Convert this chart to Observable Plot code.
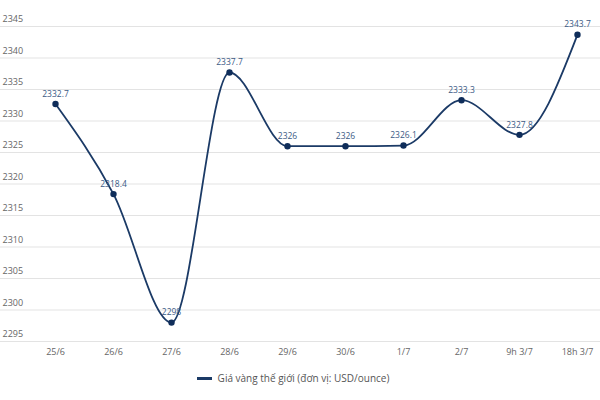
<!DOCTYPE html>
<html>
<head>
<meta charset="utf-8">
<script src="https://cdn.jsdelivr.net/npm/d3@7"></script>
<script src="https://cdn.jsdelivr.net/npm/@observablehq/plot@0.6"></script>
<style>
  body { margin: 0; background: #fff; font-family: "Open Sans", Lato, sans-serif; }
  #chart svg { display: block; }
  .legend { height: 38px; display: flex; justify-content: center; align-items: flex-start; padding-top: 9px; box-sizing: border-box; font-size: 10px; color: #555; padding-right: 14px; }
  .legend .sw { width: 15px; height: 3px; background: #1b3a66; margin-right: 6px; margin-top: 6px; }
</style>
</head>
<body>
<div id="chart"></div>
<div class="legend"><span class="sw"></span><span>Giá vàng thế giới (đơn vị: USD/ounce)</span></div>
<script>
const categories = ["25/6", "26/6", "27/6", "28/6", "29/6", "30/6", "1/7", "2/7", "9h 3/7", "18h 3/7"];
const values = [2332.7, 2318.4, 2298, 2337.7, 2326, 2326, 2326.1, 2333.3, 2327.8, 2343.7];
const yTicks = [2295, 2300, 2305, 2310, 2315, 2320, 2325, 2330, 2335, 2340, 2345];
const seriesName = "Giá vàng thế giới (đơn vị: USD/ounce)";

const data = categories.map((c, i) => ({cat: c, value: values[i]}));
const lineColor = "#1b3a66";

const chart = Plot.plot({
  width: 600,
  height: 362,
  marginTop: 26,
  marginBottom: 21,
  marginLeft: 0,
  marginRight: 0,
  insetLeft: 51,
  insetRight: 20,
  style: {fontFamily: "'Open Sans', Lato, sans-serif", background: "#fff"},
  x: {type: "point", domain: categories, padding: 0, label: null},
  y: {domain: [2295, 2345], label: null},
  marks: [
    Plot.ruleY(yTicks, {stroke: "#e3e3e3", strokeWidth: 1}),
    Plot.text(yTicks, {y: d => d, text: d => String(d), frameAnchor: "left", textAnchor: "start", dx: 2, dy: -7, fontSize: 9, fill: "#666"}),
    Plot.axisX({tickSize: 0, tickPadding: 7, fontSize: 9, color: "#666", label: null}),
    Plot.line(data, {x: "cat", y: "value", stroke: lineColor, strokeWidth: 1.8, curve: "monotone-x"}),
    Plot.dot(data, {x: "cat", y: "value", r: 3.2, fill: "#0f2d5a", stroke: "none"}),
    Plot.text(data, {x: "cat", y: "value", text: d => String(d.value), dy: -10, fontSize: 8.5, fill: "#3b5a85"})
  ]
});
document.getElementById("chart").appendChild(chart);
</script>
</body>
</html>
